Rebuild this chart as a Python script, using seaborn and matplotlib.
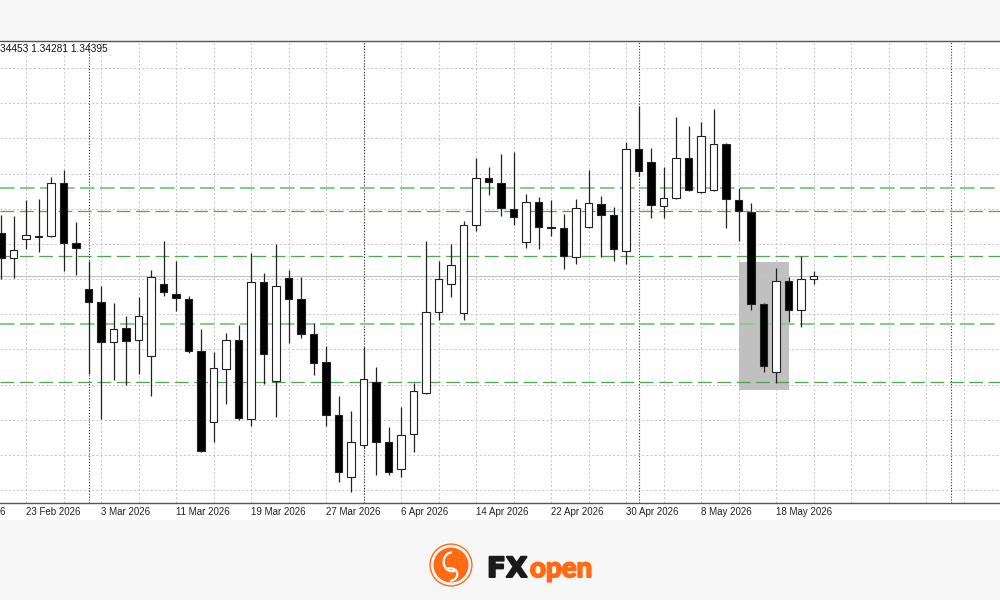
import matplotlib
matplotlib.use('Agg')
import matplotlib.pyplot as plt
import matplotlib.patheffects as pe
from matplotlib.patches import Rectangle, Circle, Arc
import numpy as np
import seaborn as sns

sns.set_style('white')
plt.rcParams['font.family'] = ['Liberation Sans', 'DejaVu Sans']

# daily candles, first visible bar = 19 Feb 2026
opens = [1.34999, 1.34644, 1.34914, 1.34957, 1.34957, 1.35710, 1.34857, 1.34203, 1.34018, 1.33449,
         1.33648, 1.33478, 1.33250, 1.34274, 1.34132, 1.34061, 1.33321, 1.32312, 1.33065, 1.33478,
         1.32354, 1.34303, 1.32895, 1.34359, 1.34061, 1.33563, 1.33165, 1.32411, 1.31530, 1.31985,
         1.32880, 1.32027, 1.31643, 1.32141, 1.32724, 1.33876, 1.34274, 1.33862, 1.35113, 1.35781,
         1.35710, 1.35341, 1.34871, 1.35440, 1.35085, 1.35070, 1.34658, 1.35085, 1.35412, 1.35255,
         1.34743, 1.36194, 1.36009, 1.35383, 1.35497, 1.36066, 1.35582, 1.35611, 1.36265, 1.35469,
         1.35298, 1.33990, 1.33023, 1.34317, 1.33904, 1.34345]
highs = [1.35255, 1.35241, 1.35469, 1.35483, 1.35796, 1.35895, 1.35156, 1.34601, 1.34246, 1.34004,
         1.33819, 1.34089, 1.34473, 1.34886, 1.34601, 1.34104, 1.33634, 1.33307, 1.33577, 1.33691,
         1.34715, 1.34431, 1.34843, 1.34473, 1.34374, 1.33720, 1.33393, 1.32682, 1.32468, 1.33378,
         1.33094, 1.32241, 1.32525, 1.32866, 1.34886, 1.34601, 1.34843, 1.35170, 1.36066, 1.35938,
         1.36123, 1.36151, 1.35554, 1.35511, 1.35469, 1.35270, 1.35483, 1.35895, 1.35526, 1.35369,
         1.36293, 1.36805, 1.36208, 1.35938, 1.36649, 1.36521, 1.36578, 1.36763, 1.36279, 1.35639,
         1.35426, 1.34004, 1.34502, 1.34374, 1.34672, 1.34453]
lows = [1.34345, 1.34359, 1.34772, 1.34729, 1.34942, 1.34459, 1.34402, 1.32994, 1.32354, 1.32909,
        1.32838, 1.32994, 1.32682, 1.34104, 1.33890, 1.33293, 1.31885, 1.32027, 1.32568, 1.32340,
        1.32255, 1.32852, 1.32383, 1.33435, 1.33506, 1.32980, 1.32255, 1.31459, 1.31316, 1.31942,
        1.31558, 1.31558, 1.31530, 1.31885, 1.32710, 1.33762, 1.34089, 1.33762, 1.35028, 1.35540,
        1.35241, 1.35113, 1.34786, 1.34772, 1.34957, 1.34487, 1.34559, 1.35070, 1.34658, 1.34601,
        1.34559, 1.35810, 1.35213, 1.35213, 1.35483, 1.35597, 1.35568, 1.35597, 1.35070, 1.34886,
        1.33904, 1.33023, 1.32866, 1.33734, 1.33663, 1.34281]
closes = [1.34644, 1.34758, 1.34971, 1.34942, 1.35710, 1.34857, 1.34786, 1.34018, 1.33449, 1.33634,
          1.33464, 1.33819, 1.34374, 1.34160, 1.34075, 1.33321, 1.31899, 1.33080, 1.33478, 1.32369,
          1.34303, 1.33279, 1.34246, 1.34061, 1.33563, 1.33151, 1.32411, 1.31601, 1.32027, 1.32923,
          1.32027, 1.31601, 1.32127, 1.32753, 1.33876, 1.34345, 1.34544, 1.35113, 1.35781, 1.35725,
          1.35355, 1.35227, 1.35440, 1.35085, 1.35070, 1.34672, 1.35355, 1.35426, 1.35255, 1.34772,
          1.36194, 1.35881, 1.35398, 1.35497, 1.36066, 1.35611, 1.36379, 1.36265, 1.35483, 1.35312,
          1.33990, 1.33108, 1.34317, 1.33904, 1.34345, 1.34395]

# x-axis labels (bar index -> date)
label_bars = [-4, 2, 8, 14, 20, 26, 32, 38, 44, 50, 56, 62]
label_text = ['13 Feb 2026', '23 Feb 2026', '3 Mar 2026', '11 Mar 2026', '19 Mar 2026', '27 Mar 2026',
              '6 Apr 2026', '14 Apr 2026', '22 Apr 2026', '30 Apr 2026', '8 May 2026', '18 May 2026']
month_sep_bars = [7, 29, 51, 76]

# drawn levels
strong_levels = [1.35643, 1.33701]
weak_levels = [1.35312, 1.34668, 1.32876]
box_bars = [59, 63]
box_prices = [1.32767, 1.34591]
header = '34453 1.34281 1.34395'

fig = plt.figure(figsize=(10, 6), dpi=100, facecolor='#f7f7f7')
fig.add_artist(Rectangle((0, 80 / 600), 1, 17 / 600, transform=fig.transFigure,
                         facecolor='white', edgecolor='none', zorder=0))
ax = fig.add_axes([0, 97 / 600, 1, 462.5 / 600])
ax.set_facecolor('white')

ax.set_xlim(-0.08, 79.92)
ax.set_ylim(1.31160, 1.37737)

# grid
for p in np.arange(1.31345, 1.3740, 0.005):
    ax.axhline(p, color='#c8c8c8', lw=0.75, ls=(0, (2, 2)), zorder=0.5)
for b in range(-1, 81, 3):
    ax.axvline(b, color='#c8c8c8', lw=0.75, ls=(0, (2, 2)), zorder=0.5)
for b in month_sep_bars:
    ax.axvline(b, color='#333333', lw=0.8, ls=(0, (1, 1.6)), zorder=0.6)

# highlighted box
ax.fill_between(box_bars, box_prices[0], box_prices[1], color='#c0c0c0', lw=0, zorder=0.7)

# levels
for p in strong_levels:
    ax.axhline(p, color='#8acb8a', lw=1.5, ls=(0, (7, 2.6)), zorder=1)
for p in weak_levels:
    ax.axhline(p, color='#4ea64e', lw=0.9, ls=(0, (11, 4.5)), zorder=1)
ax.axhline(closes[-1], color='#c4c4c4', lw=0.9, zorder=1)

# candles
x = np.arange(len(opens))
o = np.array(opens)
c = np.array(closes)
ax.vlines(x, lows, highs, color='#222222', lw=0.9, zorder=2)
up = c >= o
ax.bar(x, np.abs(c - o), bottom=np.minimum(o, c), width=0.62,
       color=np.where(up, 'white', 'black'), edgecolor='#222222', linewidth=0.8, zorder=3)

# spines / ticks
for s in ['left', 'right']:
    ax.spines[s].set_visible(False)
for s in ['top', 'bottom']:
    ax.spines[s].set_color('#555555')
    ax.spines[s].set_linewidth(1.0)
ax.set_yticks([])
ax.set_xticks([b for b in label_bars if b >= 0])
ax.set_xticklabels([])
ax.tick_params(axis='x', length=2.5, width=0.8, color='#555555', direction='out')

trans = ax.get_xaxis_transform()
for b, t in zip(label_bars, label_text):
    ax.text(b - 0.02, -0.0195, t, transform=trans, ha='left', va='center',
            fontsize=7, color='#222222', clip_on=False)

ax.text(0.0, 0.982, header, transform=ax.transAxes, ha='left', va='center',
        fontsize=7.3, color='#111111')

# logo
lax = fig.add_axes([0.428, 12 / 600, 0.046, 46 / 600])
lax.set_aspect('equal')
lax.set_xlim(-1.1, 1.1)
lax.set_ylim(-1.1, 1.1)
lax.axis('off')
orange = '#ff6a13'
lax.add_patch(Circle((0, 0), 1.0, fill=False, edgecolor=orange, lw=1.0))
lax.add_patch(Circle((0, 0), 0.8, color=orange))
lax.add_patch(Arc((0.05, 0.15), 0.8, 0.9, theta1=90, theta2=300, color='white', lw=1.6))
lax.add_patch(Arc((-0.05, -0.45), 0.7, 0.6, theta1=-90, theta2=120, color='white', lw=1.6))

fig.text(0.487, (600 - 577) / 600, 'FX', fontsize=20, fontweight='bold', color='#1a1a1a',
         family=['DejaVu Sans'], ha='left', va='baseline',
         path_effects=[pe.withStroke(linewidth=1.4, foreground='#1a1a1a')])
fig.text(0.530, (600 - 577) / 600, 'open', fontsize=20, fontweight='bold', color=orange,
         family=['Lato', 'DejaVu Sans'], ha='left', va='baseline',
         path_effects=[pe.withStroke(linewidth=1.4, foreground=orange)])

fig.savefig('out.png', dpi=100, facecolor=fig.get_facecolor())
